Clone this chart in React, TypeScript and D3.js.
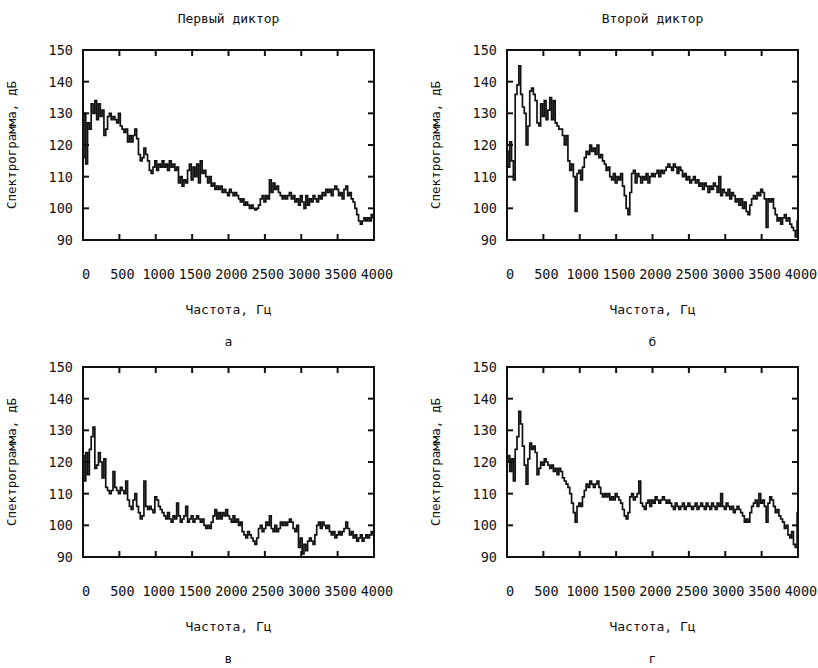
import * as d3 from 'd3';

// spectra sampled every 25 Hz, 0..4000 Hz
const freqStep = 25;
const freqMax = 4000;

const speakerA1 = [
  116, 130, 114, 127, 125, 133, 130, 134,
  128, 133, 129, 131, 123, 125, 129, 130,
  128, 129, 128, 127, 130, 126, 125, 124,
  125, 121, 123, 121, 123, 125, 122, 117,
  115, 116, 119, 117, 115, 112, 111, 113,
  115, 112, 114, 113, 115, 113, 114, 112,
  115, 113, 114, 112, 113, 108, 110, 107,
  109, 108, 112, 114, 109, 113, 110, 114,
  108, 115, 111, 112, 110, 108, 110, 107,
  108, 106, 107, 106, 107, 105, 106, 105,
  104, 106, 105, 104, 105, 104, 103, 102,
  103, 101, 102, 101, 100, 101, 100, 99.5,
  100, 101, 103, 104, 102, 104, 103, 109,
  105, 108, 106, 107, 105, 104, 103, 104,
  103, 104, 105, 103, 104, 102, 103, 101,
  104, 102, 100, 104, 101, 103, 102, 104,
  103, 102, 104, 103, 105, 104, 106, 105,
  106, 104, 106, 107, 106, 104, 105, 103,
  106, 107, 104, 105, 103, 102, 100, 98,
  96, 95, 96, 97, 96, 97, 96, 98,
  97,
];

const speakerB1 = [
  118, 113, 121, 115, 109, 136, 139, 145,
  136, 132, 130, 120, 126, 137, 138, 136,
  134, 127, 126, 133, 129, 134, 128, 131,
  135, 128, 134, 127, 126, 125, 125, 123,
  120, 123, 115, 112, 114, 110, 99, 111,
  112, 109, 113, 116, 118, 117, 120, 118,
  119, 117, 120, 116, 117, 115, 114, 112,
  113, 110, 109, 111, 108, 110, 109, 111,
  107, 104, 100, 98, 105, 111, 112, 108,
  111, 110, 108, 110, 109, 111, 108, 110,
  111, 110, 111, 112, 110, 112, 111, 112,
  113, 114, 113, 112, 114, 113, 111, 113,
  112, 110, 111, 109, 110, 108, 109, 110,
  108, 109, 107, 108, 106, 108, 107, 105,
  107, 106, 108, 107, 105, 110, 104, 106,
  105, 104, 106, 103, 105, 104, 102, 103,
  101, 103, 100, 102, 99, 98, 101, 103,
  104, 103, 105, 104, 106, 105, 103, 94,
  103, 102, 103, 100, 98, 96, 97, 95,
  97, 98, 96, 97, 95, 94, 93, 91,
  96,
];

const speakerA2 = [
  122, 114, 123, 116, 124, 128, 131, 118,
  119, 123, 120, 115, 121, 112, 111, 110,
  111, 117, 112, 111, 110, 112, 111, 110,
  114, 108, 106, 105, 108, 110, 106, 104,
  102, 103, 114, 106, 105, 106, 105, 104,
  109, 108, 106, 105, 104, 103, 102, 104,
  102, 101, 103, 102, 107, 103, 101, 102,
  103, 106, 101, 102, 103, 101, 102, 103,
  102, 101, 102, 100, 99, 100, 99, 101,
  103, 105, 102, 104, 102, 104, 103, 105,
  103, 102, 101, 103, 101, 102, 100, 101,
  98, 97, 96, 98, 97, 96, 95, 94,
  96, 99, 100, 98, 99, 101, 100, 103,
  99, 98, 100, 98, 99, 101, 100, 101,
  100, 101, 102, 101, 99, 98, 100, 93,
  96, 91, 94, 92, 95, 96, 95, 94,
  97, 100, 101, 99, 101, 100, 99, 100,
  98, 97, 98, 96, 97, 98, 97, 98,
  99, 101, 99, 97, 98, 96, 97, 95,
  96, 97, 95, 96, 97, 96, 97, 98,
  97,
];

const speakerB2 = [
  120, 122, 117, 121, 114, 124, 128, 136,
  132, 125, 119, 113, 121, 126, 124, 125,
  123, 116, 118, 120, 119, 121, 120, 119,
  118, 119, 117, 118, 116, 118, 117, 115,
  114, 113, 112, 110, 107, 104, 101, 106,
  107, 106, 109, 111, 113, 112, 114, 113,
  112, 113, 114, 112, 110, 109, 110, 109,
  110, 108, 109, 108, 110, 109, 108, 107,
  105, 103, 102, 104, 109, 110, 108, 109,
  110, 114, 107, 106, 105, 107, 108, 106,
  108, 107, 109, 108, 107, 108, 109, 108,
  107, 108, 107, 106, 105, 107, 106, 105,
  106, 107, 105, 106, 107, 106, 105, 106,
  107, 105, 106, 107, 106, 105, 107, 106,
  105, 107, 106, 105, 107, 106, 110, 106,
  105, 107, 106, 105, 106, 104, 105, 106,
  105, 104, 103, 101, 102, 101, 104, 106,
  107, 108, 106, 110, 107, 108, 106, 101,
  107, 109, 108, 106, 104, 105, 103, 102,
  101, 99, 100, 97, 96, 98, 94, 93,
  104,
];

const xTickValues = [0, 500, 1000, 1500, 2000, 2500, 3000, 3500, 4000];
const yTickValues = [90, 100, 110, 120, 130, 140, 150];

const xAxisLabel = 'Частота, Гц';
const yAxisLabel = 'Спектрограмма, дБ';

const font = '"DejaVu Sans Mono", monospace';
const ink = '#111';

type PanelProps = {
  left: number;
  top: number;
  values: number[];
  title?: string;
  letter: string;
};

function Panel({ left, top, values, title, letter }: PanelProps) {
  const w = 291;
  const h = 190;
  const x = d3.scaleLinear().domain([0, freqMax]).range([left, left + w]);
  const y = d3.scaleLinear().domain([90, 150]).range([top + h, top]);
  const line = d3
    .line<number>()
    .x((d, i) => x(i * freqStep))
    .y((d) => y(d))
    .curve(d3.curveStep);
  const clipId = `clip-${letter}`;
  const tick = 6;
  const cx = left + w / 2;

  return (
    <g>
      <defs>
        <clipPath id={clipId}>
          <rect x={left} y={top} width={w} height={h} />
        </clipPath>
      </defs>
      {title && (
        <text x={cx} y={top - 27} textAnchor="middle" fontSize={13} fill={ink}>
          {title}
        </text>
      )}
      <path
        d={line(values) || ''}
        fill="none"
        stroke={ink}
        strokeWidth={1.7}
        clipPath={`url(#${clipId})`}
      />
      {xTickValues.slice(1, -1).map((t) => (
        <g key={'x' + t}>
          <line x1={x(t)} x2={x(t)} y1={top + h} y2={top + h - tick} stroke={ink} strokeWidth={2} />
          <line x1={x(t)} x2={x(t)} y1={top} y2={top + tick} stroke={ink} strokeWidth={2} />
        </g>
      ))}
      {yTickValues.slice(1, -1).map((t) => (
        <g key={'y' + t}>
          <line x1={left} x2={left + tick} y1={y(t)} y2={y(t)} stroke={ink} strokeWidth={2} />
          <line x1={left + w} x2={left + w - tick} y1={y(t)} y2={y(t)} stroke={ink} strokeWidth={2} />
        </g>
      ))}
      <rect x={left} y={top} width={w} height={h} fill="none" stroke={ink} strokeWidth={2} />
      {yTickValues.map((t) => (
        <text key={'yl' + t} x={left - 10} y={y(t) + 5} textAnchor="end" fontSize={13.5} fill={ink}>
          {t}
        </text>
      ))}
      {xTickValues.map((t) => (
        <text key={'xl' + t} x={x(t) + 3} y={top + h + 39} textAnchor="middle" fontSize={13.5} fill={ink}>
          {t}
        </text>
      ))}
      <text x={cx} y={top + h + 74} textAnchor="middle" fontSize={13} fill={ink}>
        {xAxisLabel}
      </text>
      <text
        transform={`translate(${left - 67},${top + h / 2}) rotate(-90)`}
        textAnchor="middle"
        fontSize={12.5}
        fill={ink}
      >
        {yAxisLabel}
      </text>
      <text x={cx} y={top + h + 106} textAnchor="middle" fontSize={13} fill={ink}>
        {letter}
      </text>
    </g>
  );
}

export default function App() {
  return (
    <svg
      width={818}
      height={668}
      style={{ position: 'absolute', left: 0, top: 0, background: '#fff' }}
      fontFamily={font}
    >
      <Panel left={83} top={50} values={speakerA1} title="Первый диктор" letter="а" />
      <Panel left={507} top={50} values={speakerB1} title="Второй диктор" letter="б" />
      <Panel left={83} top={367} values={speakerA2} letter="в" />
      <Panel left={507} top={367} values={speakerB2} letter="г" />
    </svg>
  );
}
